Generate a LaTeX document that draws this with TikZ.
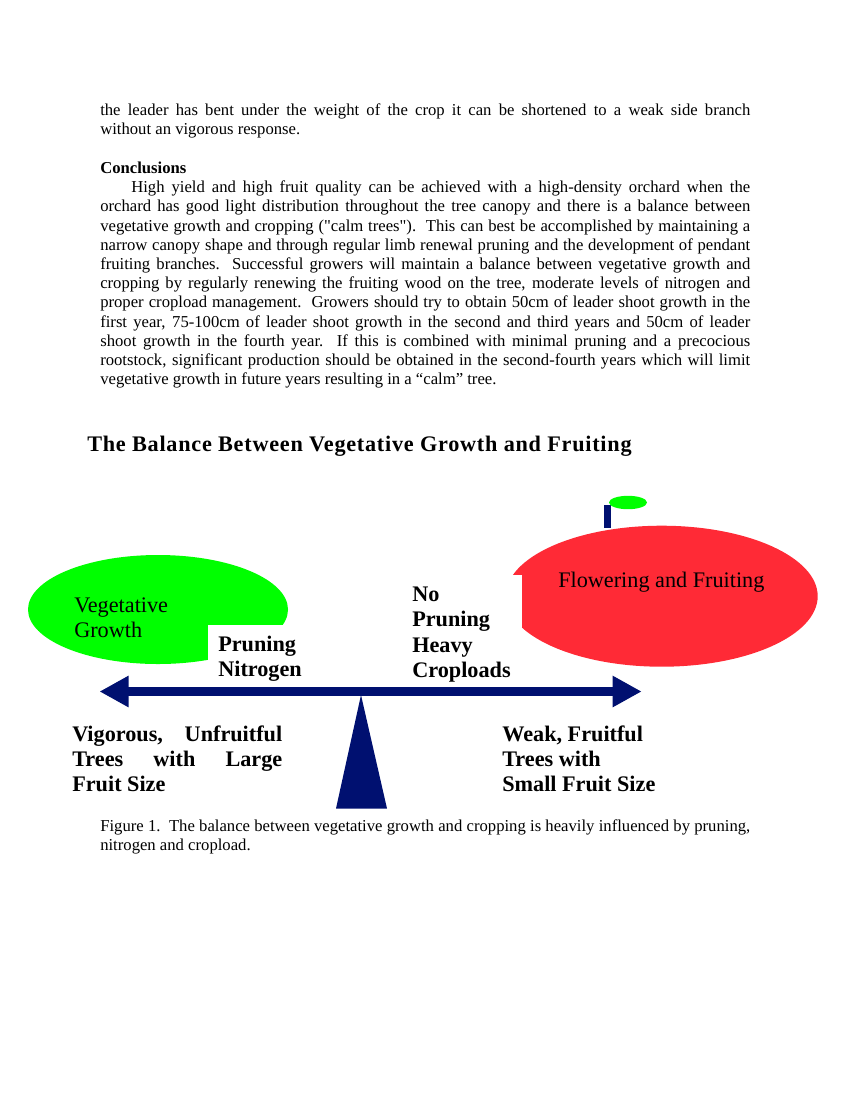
\documentclass[tikz,border=0pt]{standalone}
\usepackage{fontspec}
\setmainfont{Liberation Serif}
\newfontfamily\plainq{Liberation Serif}
\usetikzlibrary{arrows.meta}
\newlength{\pxu}\setlength{\pxu}{0.72bp}
\newcommand{\jline}[1]{\hbox to 650\pxu{#1}}
\newcommand{\lline}[1]{\hbox to 650\pxu{#1\hfil}}
\definecolor{navyb}{RGB}{0,16,112}
\definecolor{redf}{RGB}{255,42,54}
\definecolor{greenf}{RGB}{0,255,0}
\tikzset{
  body/.style={anchor=base west,inner sep=0pt,font=\fontsize{12bp}{13.8bp}\selectfont},
  lab/.style={anchor=base west,inner sep=0pt,font=\fontsize{16bp}{18bp}\selectfont},
  blab/.style={anchor=base west,inner sep=0pt,font=\fontsize{16bp}{18bp}\selectfont\bfseries},
  mask/.style={fill=white,draw=none},
}
\begin{document}
\begin{tikzpicture}[x=0.72bp,y=-0.72bp]
\useasboundingbox (0,0) rectangle (850,1100);
% body text
\node[body] (p1a) at (100,115) {\jline{the leader has bent under the weight of the crop it can be shortened to a weak side branch}};
\node[body] (p1b) at (100,134.2) {\lline{without an vigorous response.}};
\node[body] (h) at (100,173.5) {\lline{\bfseries Conclusions}};
\node[body] (c1) at (100,192.7) {\jline{\hspace{31\pxu}High yield and high fruit quality can be achieved with a high-density orchard when the}};
\node[body] (c2) at (100,211.9) {\jline{orchard has good light distribution throughout the tree canopy and there is a balance between}};
\node[body] (c3) at (100,231.1) {\jline{vegetative growth and cropping ({\plainq"}calm trees{\plainq"}).\ \ This can best be accomplished by maintaining a}};
\node[body] (c4) at (100,250.3) {\jline{narrow canopy shape and through regular limb renewal pruning and the development of pendant}};
\node[body] (c5) at (100,269.5) {\jline{fruiting branches.\ \ Successful growers will maintain a balance between vegetative growth and}};
\node[body] (c6) at (100,288.7) {\jline{cropping by regularly renewing the fruiting wood on the tree, moderate levels of nitrogen and}};
\node[body] (c7) at (100,307.9) {\jline{proper cropload management.\ \ Growers should try to obtain 50cm of leader shoot growth in the}};
\node[body] (c8) at (100,327.1) {\jline{first year, 75-100cm of leader shoot growth in the second and third years and 50cm of leader}};
\node[body] (c9) at (100,346.3) {\jline{shoot growth in the fourth year.\ \ If this is combined with minimal pruning and a precocious}};
\node[body] (c10) at (100,365.5) {\jline{rootstock, significant production should be obtained in the second-fourth years which will limit}};
\node[body] (c11) at (100,384.7) {\lline{vegetative growth in future years resulting in a “calm” tree.}};
% title
\node[anchor=base west,inner sep=0pt,font=\fontsize{16bp}{18bp}\selectfont\bfseries\addfontfeature{LetterSpace=3.35}] (title) at (87,451) {The Balance Between Vegetative Growth and Fruiting};
% shapes
\fill[greenf] (158,609.5) ellipse [x radius=130,y radius=54.5];
\fill[mask] (208,625) rectangle (300,686);
\fill[redf] (661.7,596.2) ellipse [x radius=156,y radius=70.5];
\fill[mask] (495,575) rectangle (521.7,680);
\fill[navyb] (604.3,505) rectangle (611,528);
\fill[greenf] (628,502.5) ellipse [x radius=19,y radius=6.7];
% lever
\coordinate (armL) at (99.5,691.5);
\coordinate (armR) at (641.7,691.5);
\draw[navyb,line width=8.3*0.72bp,{Triangle[length=29*0.72bp,width=29.4*0.72bp]}-{Triangle[length=29*0.72bp,width=29.4*0.72bp]}] (armL) -- (armR);
\fill[navyb] (361,695) -- (387,808.5) -- (336,808.5) -- cycle;
% labels
\node[lab] (v1) at (74,612.7) {Vegetative};
\node[lab] (v2) at (74,637.5) {Growth};
\node[lab] (f1) at (558,587) {Flowering and Fruiting};
\node[blab] (pr) at (218,651.7) {Pruning};
\node[blab] (ni) at (218,676.6) {Nitrogen};
\node[blab] (n1) at (412,601) {No};
\node[blab] (n2) at (412,626.5) {Pruning};
\node[blab] (n3) at (412,652) {Heavy};
\node[blab] (n4) at (412,677) {Croploads};
\node[blab] (a1) at (72,741) {\hbox to 210\pxu{Vigorous, Unfruitful}};
\node[blab] (a2) at (72,766) {\hbox to 210\pxu{Trees with Large}};
\node[blab] (a3) at (72,791) {Fruit Size};
\node[blab] (b1) at (502,741) {Weak, Fruitful};
\node[blab] (b2) at (502,766) {Trees with};
\node[blab] (b3) at (502,791) {Small Fruit Size};
% caption
\node[body] (cap1) at (100,831) {\jline{Figure 1.\ \ The balance between vegetative growth and cropping is heavily influenced by pruning,}};
\node[body] (cap2) at (100,850) {\lline{nitrogen and cropload.}};
\end{tikzpicture}
\end{document}
